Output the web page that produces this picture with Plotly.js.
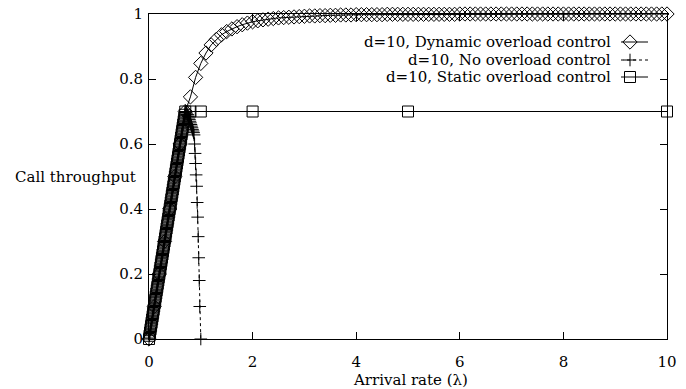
<!DOCTYPE html>
<html>
<head>
<meta charset="utf-8">
<script src="https://cdn.plot.ly/plotly-3.0.1.min.js"></script>
<style>html,body{margin:0;padding:0;background:#fff;}#chart{width:686px;height:389px;}</style>
</head>
<body>
<div id="chart"></div>
<script>
// ---------- DATA ----------
// Rising (unsaturated) part shared by "No" and "Static" control: throughput equals arrival rate
const riseRate = [0,0.01,0.02,0.03,0.04,0.05,0.06,0.07,0.08,0.09,0.10,0.11,0.12,0.13,0.14,0.15,0.16,0.17,0.18,0.19,
  0.20,0.21,0.22,0.23,0.24,0.25,0.26,0.27,0.28,0.29,0.30,0.31,0.32,0.33,0.34,0.35,0.36,0.37,0.38,0.39,
  0.40,0.41,0.42,0.43,0.44,0.45,0.46,0.47,0.48,0.49,0.50,0.51,0.52,0.53,0.54,0.55,0.56,0.57,0.58,0.59,
  0.60,0.61,0.62,0.63,0.64,0.65,0.66,0.67,0.68,0.69,0.70];
const riseThroughput = [0,0.01,0.02,0.03,0.04,0.05,0.06,0.07,0.08,0.09,0.10,0.11,0.12,0.13,0.14,0.15,0.16,0.17,0.18,0.19,
  0.20,0.21,0.22,0.23,0.24,0.25,0.26,0.27,0.28,0.29,0.30,0.31,0.32,0.33,0.34,0.35,0.36,0.37,0.38,0.39,
  0.40,0.41,0.42,0.43,0.44,0.45,0.46,0.47,0.48,0.49,0.50,0.51,0.52,0.53,0.54,0.55,0.56,0.57,0.58,0.59,
  0.60,0.61,0.62,0.63,0.64,0.65,0.66,0.67,0.68,0.69,0.70];

// d=10, Dynamic overload control
const dynRate = [0,0.1,0.2,0.3,0.4,0.5,0.6,0.7,0.8,0.9,1.0,1.1,1.2,1.3,1.4,1.5,1.6,1.7,1.8,1.9,
  2.0,2.1,2.2,2.3,2.4,2.5,2.6,2.7,2.8,2.9,3.0,3.1,3.2,3.3,3.4,3.5,3.6,3.7,3.8,3.9,
  4.0,4.1,4.2,4.3,4.4,4.5,4.6,4.7,4.8,4.9,5.0,5.1,5.2,5.3,5.4,5.5,5.6,5.7,5.8,5.9,
  6.0,6.1,6.2,6.3,6.4,6.5,6.6,6.7,6.8,6.9,7.0,7.1,7.2,7.3,7.4,7.5,7.6,7.7,7.8,7.9,
  8.0,8.1,8.2,8.3,8.4,8.5,8.6,8.7,8.8,8.9,9.0,9.1,9.2,9.3,9.4,9.5,9.6,9.7,9.8,9.9,10.0];
const dynThroughput = [0,0.1,0.2,0.3,0.4,0.5,0.6,0.7,0.745,0.805,0.848,0.88,0.905,0.922,0.936,0.946,0.954,0.961,0.967,0.972,
  0.976,0.979,0.982,0.984,0.986,0.988,0.989,0.990,0.991,0.992,0.993,0.994,0.994,0.995,0.995,0.996,0.996,0.997,0.997,0.997,
  0.998,0.998,0.998,0.998,0.998,0.998,0.999,0.999,0.999,0.999,0.999,0.999,0.999,0.999,0.999,0.999,0.999,0.999,0.999,0.999,
  1,1,1,1,1,1,1,1,1,1,1,1,1,1,1,1,1,1,1,1,
  1,1,1,1,1,1,1,1,1,1,1,1,1,1,1,1,1,1,1,1,1];

// d=10, No overload control (after the peak)
const noRateTail = [0.71,0.72,0.73,0.74,0.75,0.76,0.77,0.78,0.79,0.80,0.81,0.82,0.83,0.84,0.85,0.86,
  0.87,0.88,0.89,0.90,0.91,0.92,0.93,0.94,0.95,0.96,0.97,0.98,1.00];
const noThroughputTail = [0.70,0.70,0.695,0.69,0.69,0.685,0.68,0.675,0.67,0.665,0.66,0.655,0.65,0.645,0.64,0.635,
  0.628,0.60,0.571,0.54,0.505,0.47,0.42,0.375,0.315,0.25,0.18,0.10,0];

// d=10, Static overload control (after saturation)
const staticRateTail = [0.8,1,2,5,10];
const staticThroughputTail = [0.7,0.7,0.7,0.7,0.7];

// Labels
const seriesNames = ['d=10, Dynamic overload control','d=10, No overload control','d=10, Static overload control'];
const xTicks = [0,2,4,6,8,10];
const yTicks = [0,0.2,0.4,0.6,0.8,1];
const xTitle = 'Arrival rate (λ)';
const yTitle = 'Call throughput';

// ---------- STYLE / LAYOUT ----------
const FONT = 'DejaVu Serif, Liberation Serif, serif';
const FS = 15;
const styles = [
  {symbol:'diamond-open', size:11, dash:'solid'},
  {symbol:'cross-thin-open', size:9, dash:'dot'},
  {symbol:'square-open', size:11, dash:'solid'}
];
// legend geometry in pixel units (overlay axis maps pixels)
const legRowsY = [42, 60, 77];
const legTextRight = 613;
const legLineX = [621, 648];
const legMarkX = 630;

const xs = [dynRate, riseRate.concat(noRateTail), riseRate.concat(staticRateTail)];
const ys = [dynThroughput, riseThroughput.concat(noThroughputTail), riseThroughput.concat(staticThroughputTail)];

const traces = [];
for (let i = 0; i < 3; i++) {
  traces.push({
    x: xs[i], y: ys[i], type:'scatter', mode:'lines+markers', name: seriesNames[i],
    line:{color:'#000', width:1, dash: styles[i].dash},
    marker:{symbol: styles[i].symbol, size: styles[i].size, color:'#000', line:{color:'#000', width:1}},
    cliponaxis:false, showlegend:false, xaxis:'x', yaxis:'y'
  });
}
const L = 149, R = 667, T = 14, B = 339;
// legend samples on the pixel overlay axis
const annotations = [];
for (let i = 0; i < 3; i++) {
  traces.push({
    x: legLineX, y: [legRowsY[i], legRowsY[i]], type:'scatter', mode:'lines',
    line:{color:'#000', width:1, dash: styles[i].dash}, xaxis:'x2', yaxis:'y2', showlegend:false, hoverinfo:'skip'
  });
  traces.push({
    x: [legMarkX], y: [legRowsY[i]], type:'scatter', mode:'markers',
    marker:{symbol: styles[i].symbol, size: styles[i].size, color:'#000', line:{color:'#000', width:1}},
    xaxis:'x2', yaxis:'y2', showlegend:false, hoverinfo:'skip'
  });
  annotations.push({
    xref:'x2', yref:'y2', x: legTextRight, y: legRowsY[i], text: seriesNames[i],
    xanchor:'right', yanchor:'middle', showarrow:false, font:{family:FONT, size:FS, color:'#000'}
  });
}
annotations.push({
  xref:'paper', yref:'paper', x: (75 - L) / (R - L), y: (B - 177) / (B - T), text: yTitle,
  xanchor:'center', yanchor:'middle', showarrow:false, font:{family:FONT, size:FS, color:'#000'}
});
annotations.push({
  xref:'paper', yref:'paper', x: (410 - L) / (R - L), y: (B - 380) / (B - T), text: xTitle,
  xanchor:'center', yanchor:'middle', showarrow:false, font:{family:FONT, size:FS, color:'#000'}
});

const layout = {
  width:686, height:389,
  margin:{l:L, r:686-R, t:T, b:389-B, pad:0},
  paper_bgcolor:'#fff', plot_bgcolor:'#fff',
  font:{family:FONT, size:FS, color:'#000'},
  showlegend:false,
  xaxis:{range:[0,10], tickvals:xTicks, ticktext:xTicks.map(String), ticks:'inside', ticklen:7, tickwidth:1,
    tickcolor:'#000', showline:true, linecolor:'#000', linewidth:1, mirror:'ticks', showgrid:false, zeroline:false,
    ticklabelstandoff:9, tickfont:{family:FONT, size:FS}},
  yaxis:{range:[0,1], tickvals:yTicks, ticktext:yTicks.map(String), ticks:'inside', ticklen:7, tickwidth:1,
    tickcolor:'#000', showline:true, linecolor:'#000', linewidth:1, mirror:'ticks', showgrid:false, zeroline:false,
    ticklabelstandoff:2, tickfont:{family:FONT, size:FS}},
  xaxis2:{overlaying:'x', range:[L, R], visible:false, fixedrange:true},
  yaxis2:{overlaying:'y', range:[B, T], visible:false, fixedrange:true},
  annotations: annotations
};
Plotly.newPlot('chart', traces, layout, {staticPlot:true, displayModeBar:false});
</script>
</body>
</html>
